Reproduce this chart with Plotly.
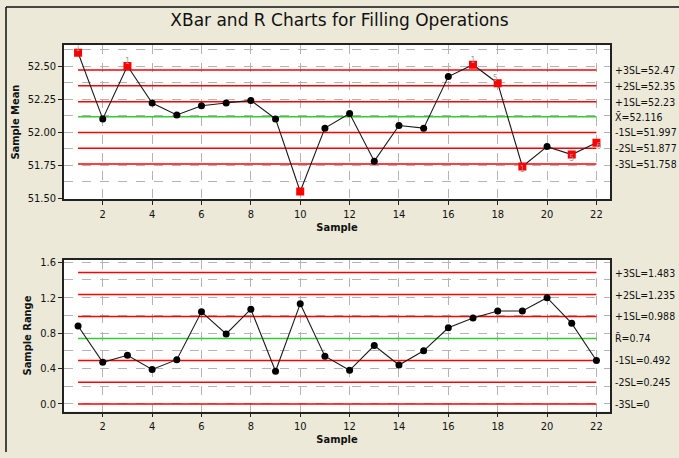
import plotly.graph_objects as go

# Subgroup numbers
samples = list(range(1, 23))

# Subgroup means (Xbar chart)
xbar = [52.60, 52.10, 52.50, 52.22, 52.13, 52.20, 52.22, 52.24, 52.10, 51.55, 52.03,
        52.14, 51.78, 52.05, 52.03, 52.42, 52.51, 52.37, 51.74, 51.89, 51.83, 51.92]

# Subgroup ranges (R chart)
ranges = [0.88, 0.47, 0.55, 0.39, 0.50, 1.04, 0.79, 1.07, 0.37, 1.13, 0.54,
          0.38, 0.66, 0.44, 0.60, 0.86, 0.97, 1.05, 1.05, 1.20, 0.91, 0.49]

# Sigma-level lines for the Xbar chart
xbar_limits = [52.47, 52.35, 52.23, 52.116, 51.997, 51.877, 51.758]
xbar_limit_labels = ["+3SL=52.47", "+2SL=52.35", "+1SL=52.23", "X\u0304=52.116",
                     "-1SL=51.997", "-2SL=51.877", "-3SL=51.758"]

# Sigma-level lines for the R chart
r_limits = [1.483, 1.235, 0.988, 0.74, 0.492, 0.245, 0.0]
r_limit_labels = ["+3SL=1.483", "+2SL=1.235", "+1SL=0.988", "R\u0304=0.74",
                  "-1SL=0.492", "-2SL=0.245", "-3SL=0"]

# Points failing a test: sample number, failed test, label side
flag_samples = [1, 3, 17, 18, 19, 21, 22]
flag_tests = ["1", "1", "1", "5", "1", "5", "6"]
flag_pos = ["top center", "top center", "top center", "top left",
            "bottom center", "bottom center", "bottom right"]
# Sample 10 also fails test 1 but lies at the bottom edge
xbar_flagged = set(flag_samples + [10])

FONT = "DejaVu Sans Condensed, Liberation Sans, sans-serif"
TITLE_FONT = "DejaVu Sans"
RED = "#ff0000"
GREEN = "#33cc33"
GRID = "#b4b4b4"

fig = go.Figure()


def add_limits(values, xa, ya):
    for i, v in enumerate(values):
        fig.add_trace(go.Scatter(
            x=[samples[0], samples[-1]], y=[v, v], mode="lines",
            line=dict(color=GREEN if i == 3 else RED, width=1.5),
            xaxis=xa, yaxis=ya, hoverinfo="skip", showlegend=False))


add_limits(xbar_limits, "x", "y")
add_limits(r_limits, "x2", "y2")

# Xbar series
fig.add_trace(go.Scatter(
    x=samples, y=xbar, mode="lines", line=dict(color="#1a1a1a", width=1.1),
    xaxis="x", yaxis="y", showlegend=False))
ok_x = [s for s in samples if s not in xbar_flagged]
fig.add_trace(go.Scatter(
    x=ok_x, y=[xbar[s - 1] for s in ok_x], mode="markers",
    marker=dict(color="black", size=7, symbol="circle"),
    xaxis="x", yaxis="y", showlegend=False))
bad_x = sorted(xbar_flagged)
fig.add_trace(go.Scatter(
    x=bad_x, y=[xbar[s - 1] for s in bad_x], mode="markers",
    marker=dict(color=RED, size=8, symbol="square"),
    xaxis="x", yaxis="y", showlegend=False))
fig.add_trace(go.Scatter(
    x=flag_samples, y=[xbar[s - 1] for s in flag_samples], mode="text",
    text=flag_tests, textposition=flag_pos,
    textfont=dict(family=FONT, size=8, color="#999999"),
    xaxis="x", yaxis="y", showlegend=False))

# R series
fig.add_trace(go.Scatter(
    x=samples, y=ranges, mode="lines+markers",
    line=dict(color="#1a1a1a", width=1.1),
    marker=dict(color="black", size=7),
    xaxis="x2", yaxis="y2", showlegend=False))

xdom = [64 / 679, 610 / 679]
axis_common = dict(
    showline=True, linecolor="#222222", linewidth=1.5, mirror=True,
    ticks="outside", ticklen=4, tickcolor="#222222", tickwidth=1,
    gridcolor=GRID, griddash="dash", gridwidth=1, zeroline=False,
    tickfont=dict(family=FONT, size=11, color="#111111"),
)
xaxis_common = dict(axis_common, range=[0.43, 22.55], tick0=2, dtick=2,
                    title=dict(text="<b>Sample</b>", standoff=2,
                               font=dict(family=FONT, size=11, color="#111111")))

fig.update_layout(
    width=679, height=458,
    margin=dict(l=0, r=0, t=0, b=0),
    paper_bgcolor="#ece9d8", plot_bgcolor="white",
    showlegend=False,
    title=dict(text="XBar and R Charts for Filling Operations",
               x=0.5, xanchor="center", y=1 - 20 / 458, yanchor="middle",
               font=dict(family=TITLE_FONT, size=17, color="#111111")),
    xaxis=dict(xaxis_common, domain=xdom, anchor="y"),
    yaxis=dict(axis_common, domain=[1 - 200 / 458, 1 - 43 / 458], anchor="x",
               range=[51.493, 52.658], tick0=51.5, dtick=0.25, tickformat=".2f",
               minor=dict(dtick=0.125, showgrid=True, gridcolor=GRID,
                          griddash="dash", gridwidth=1),
               title=dict(text="<b>Sample Mean</b>", standoff=6,
                          font=dict(family=FONT, size=11, color="#111111"))),
    xaxis2=dict(xaxis_common, domain=xdom, anchor="y2"),
    yaxis2=dict(axis_common, domain=[1 - 416.7 / 458, 1 - 261.7 / 458], anchor="x2",
                range=[-0.085, 1.63], tick0=0, dtick=0.4, tickformat=".1f",
                minor=dict(dtick=0.2, showgrid=True, gridcolor=GRID,
                           griddash="dash", gridwidth=1),
                title=dict(text="<b>Sample Range</b>", standoff=6,
                           font=dict(family=FONT, size=11, color="#111111"))),
)

# Sigma-level labels to the right of each chart
for vals, labels, ya in [(xbar_limits, xbar_limit_labels, "y"),
                         (r_limits, r_limit_labels, "y2")]:
    for v, t in zip(vals, labels):
        fig.add_annotation(x=613 / 679, xref="paper", y=v, yref=ya, text=t,
                           showarrow=False, xanchor="left", yanchor="middle",
                           font=dict(family=FONT, size=10.5, color="#111111"))

# Frame along the top and left edges
fig.add_shape(type="line", xref="paper", yref="paper", x0=6 / 679, x1=1,
              y0=1 - 4 / 458, y1=1 - 4 / 458, line=dict(color="#111111", width=1.5))
fig.add_shape(type="line", xref="paper", yref="paper", x0=6 / 679, x1=6 / 679,
              y0=0, y1=1 - 4 / 458, line=dict(color="#111111", width=1.5))

fig.write_html("out.html")
